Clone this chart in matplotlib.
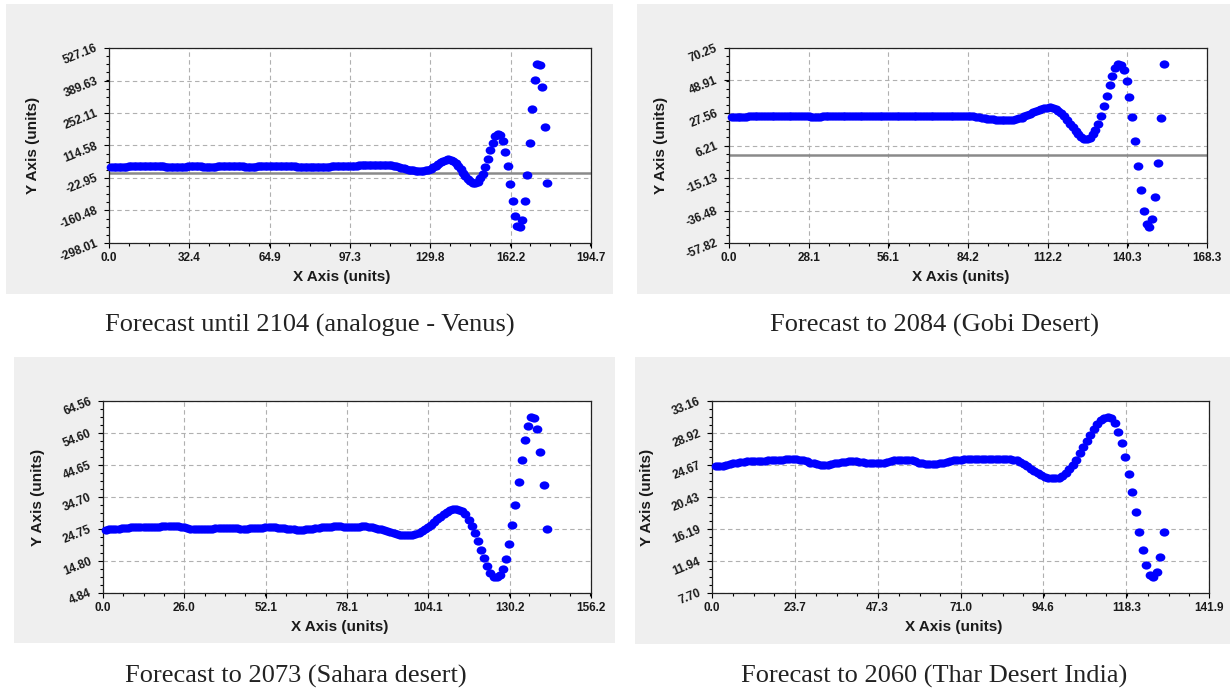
import numpy as np
import matplotlib
matplotlib.use("Agg")
import matplotlib.pyplot as plt
from matplotlib.path import Path
from matplotlib.patches import Rectangle
from matplotlib.transforms import Affine2D
from matplotlib.ticker import AutoMinorLocator

plt.rcParams['font.family'] = ['Liberation Sans', 'DejaVu Sans']

# ---- forecast series (one point per unit step) ----
venus_y = [
    24, 24, 25, 25, 25, 25, 25, 26, 26, 26,
    26, 26, 26, 26, 26, 26, 26, 26, 26, 26,
    26, 26, 25, 25, 25, 25, 25, 25, 25, 25,
    25, 26, 26, 26, 26, 26, 26, 25, 25, 25,
    25, 25, 25, 26, 26, 26, 26, 26, 26, 26,
    26, 26, 26, 26, 25, 25, 25, 25, 25, 26,
    26, 26, 26, 26, 26, 26, 26, 26, 26, 26,
    26, 26, 26, 26, 26, 25, 25, 25, 25, 25,
    25, 25, 25, 25, 25, 25, 25, 25, 25, 26,
    26, 26, 26, 27, 27, 27, 28, 28, 29, 29,
    30, 30, 31, 31, 32, 32, 33, 33, 33, 33,
    33, 33, 32, 31, 29, 27, 24, 21, 18, 15,
    13, 11, 9, 8, 7, 7, 8, 10, 13, 17,
    22, 29, 37, 45, 51, 55, 57, 55, 49, 40,
    28, 14, 0, -14, -27, -37, -42, -43, -38, -24,
    -5, 24, 59, 97, 127, 154, 163, 158, 134, 88,
    28, -47, -121, -182, -226, -229.25, -199, -122, -10, 127,
    270, 390, 458.4, 455, 364, 194, -43,
]

gobi_y = [
    24.7, 24.8, 24.9, 25.0, 25.1, 25.2, 25.3, 25.4, 25.5, 25.5,
    25.6, 25.6, 25.7, 25.7, 25.7, 25.8, 25.8, 25.8, 25.7, 25.7,
    25.7, 25.6, 25.6, 25.5, 25.5, 25.4, 25.3, 25.3, 25.2, 25.2,
    25.2, 25.2, 25.3, 25.3, 25.4, 25.5, 25.5, 25.5, 25.6, 25.6,
    25.6, 25.5, 25.5, 25.4, 25.4, 25.4, 25.4, 25.5, 25.5, 25.6,
    25.6, 25.7, 25.7, 25.7, 25.6, 25.6, 25.5, 25.4, 25.3, 25.3,
    25.3, 25.3, 25.4, 25.5, 25.6, 25.6, 25.7, 25.7, 25.7, 25.7,
    25.7, 25.7, 25.7, 25.7, 25.7, 25.7, 25.7, 25.7, 25.7, 25.7,
    25.7, 25.7, 25.7, 25.6, 25.5, 25.3, 25.0, 24.7, 24.4, 24.1,
    23.8, 23.5, 23.3, 23.1, 23.0, 22.9, 22.9, 22.9, 23.0, 23.2,
    23.5, 24.0, 24.6, 25.3, 26.1, 27.0, 27.9, 28.8, 29.6, 30.3,
    30.8, 31.1, 31.2, 30.9, 30.2, 29.0, 27.4, 25.4, 23.1, 20.6,
    18.1, 15.7, 13.6, 11.9, 10.8, 10.5, 11.2, 13.5, 16.5, 20.5,
    25.8, 32.3, 38.9, 45.9, 52.0, 56.9, 59.5, 59.4, 55.7, 48.9,
    38.3, 24.7, 9.3, -7.2, -22.8, -36.5, -45.3, -47.15, -42.0, -27.9,
    -5.2, 24.5, 59.58,
]

sahara_y = [
    24.5, 24.6, 24.7, 24.8, 24.9, 25.0, 25.1, 25.2, 25.3, 25.3,
    25.4, 25.4, 25.4, 25.4, 25.4, 25.4, 25.5, 25.5, 25.6, 25.7,
    25.8, 25.8, 25.8, 25.7, 25.5, 25.3, 25.1, 24.9, 24.8, 24.7,
    24.6, 24.6, 24.7, 24.8, 24.9, 25.0, 25.1, 25.1, 25.2, 25.2,
    25.1, 25.0, 25.0, 24.9, 24.9, 24.9, 25.0, 25.0, 25.1, 25.1,
    25.2, 25.3, 25.3, 25.3, 25.3, 25.2, 25.1, 25.0, 24.8, 24.7,
    24.6, 24.5, 24.5, 24.5, 24.6, 24.7, 24.9, 25.0, 25.2, 25.3,
    25.4, 25.5, 25.5, 25.6, 25.6, 25.6, 25.5, 25.5, 25.5, 25.5,
    25.5, 25.5, 25.6, 25.6, 25.5, 25.4, 25.2, 24.9, 24.6, 24.3,
    24.0, 23.7, 23.4, 23.2, 23.0, 22.9, 22.8, 22.8, 22.9, 23.1,
    23.5, 24.0, 24.6, 25.3, 26.1, 26.9, 27.8, 28.6, 29.4, 30.0,
    30.6, 30.9, 31.0, 30.8, 30.3, 29.5, 27.65, 25.7, 23.5, 20.9,
    18.3, 15.8, 13.2, 11.2, 9.82, 9.8, 10.4, 12.2, 15.5, 20.2,
    25.9, 32.3, 39.4, 46.1, 52.3, 56.9, 59.58, 59.4, 55.7, 48.8,
    38.4, 24.85,
]

thar_y = [
    24.6, 24.6, 24.6, 24.7, 24.8, 24.9, 25.0, 25.1, 25.1, 25.2,
    25.2, 25.2, 25.2, 25.2, 25.2, 25.3, 25.3, 25.3, 25.4, 25.4,
    25.5, 25.5, 25.5, 25.5, 25.4, 25.3, 25.2, 25.0, 24.9, 24.8,
    24.7, 24.7, 24.7, 24.8, 24.9, 25.0, 25.1, 25.1, 25.2, 25.2,
    25.2, 25.1, 25.1, 25.0, 25.0, 25.0, 25.0, 25.0, 25.0, 25.1,
    25.2, 25.3, 25.3, 25.4, 25.4, 25.3, 25.3, 25.2, 25.0, 24.9,
    24.8, 24.8, 24.8, 24.8, 24.9, 25.0, 25.1, 25.2, 25.3, 25.4,
    25.4, 25.5, 25.5, 25.5, 25.5, 25.5, 25.5, 25.5, 25.5, 25.5,
    25.5, 25.5, 25.5, 25.5, 25.5, 25.4, 25.3, 25.1, 24.8, 24.5,
    24.2, 23.9, 23.6, 23.3, 23.1, 23.0, 22.9, 22.9, 23.0, 23.2,
    23.6, 24.1, 24.7, 25.4, 26.2, 27.0, 27.8, 28.6, 29.4, 30.1,
    30.6, 30.9, 31.04, 30.9, 30.25, 29.06, 27.65, 25.76, 23.47, 21.05,
    18.4, 15.8, 13.4, 11.4, 10.1, 9.82, 10.47, 12.5, 15.76,
]

# axis ticks shown on each chart
venus_xticks = [0.0, 32.4, 64.9, 97.3, 129.8, 162.2, 194.7]
venus_yticks = [-298.01, -160.48, -22.95, 114.58, 252.11, 389.63, 527.16]
gobi_xticks = [0.0, 28.1, 56.1, 84.2, 112.2, 140.3, 168.3]
gobi_yticks = [-57.82, -36.48, -15.13, 6.21, 27.56, 48.91, 70.25]
sahara_xticks = [0.0, 26.0, 52.1, 78.1, 104.1, 130.2, 156.2]
sahara_yticks = [4.84, 14.80, 24.75, 34.70, 44.65, 54.60, 64.56]
thar_xticks = [0.0, 23.7, 47.3, 71.0, 94.6, 118.3, 141.9]
thar_yticks = [7.70, 11.94, 16.19, 20.43, 24.67, 28.92, 33.16]

titles = [
    "Forecast until 2104 (analogue - Venus)",
    "Forecast to 2084 (Gobi Desert)",
    "Forecast to 2073 (Sahara desert)",
    "Forecast to 2060 (Thar Desert India)",
]

W, H = 1230, 693
fig = plt.figure(figsize=(W / 100, H / 100), dpi=100, facecolor='white')

# slightly flattened dot marker
dot = Path.unit_circle().transformed(Affine2D().scale(1.0, 0.85))


def px_rect(x0, y0, x1, y1):
    return [x0 / W, 1 - y1 / H, (x1 - x0) / W, (y1 - y0) / H]


def panel(ys, xticks, yticks, ax_box, bg_box, title, title_xy, xlab_xy, ylab_xy):
    fig.patches.append(Rectangle((bg_box[0], bg_box[1]), bg_box[2], bg_box[3],
                                 transform=fig.transFigure, facecolor='#efefef',
                                 edgecolor='none', zorder=-10))
    ax = fig.add_axes(ax_box)
    ax.set_facecolor('white')
    xs = np.arange(1, len(ys) + 1)
    ax.set_xlim(xticks[0], xticks[-1])
    ax.set_ylim(yticks[0], yticks[-1])
    ax.set_xticks(xticks)
    ax.set_xticklabels(['%.1f' % v for v in xticks], fontsize=8.5, fontweight='bold',
                       color='#1a1a1a')
    ax.set_yticks(yticks)
    ax.set_yticklabels(['%.2f' % v for v in yticks], fontsize=8.5, fontweight='bold',
                       color='#1a1a1a', rotation=22, ha='right', va='center',
                       rotation_mode='anchor')
    ax.xaxis.set_minor_locator(AutoMinorLocator(4))
    ax.yaxis.set_minor_locator(AutoMinorLocator(4))
    ax.tick_params(which='major', direction='out', length=3.5, width=0.8, pad=3)
    ax.tick_params(axis='y', which='major', pad=5)
    ax.tick_params(which='minor', direction='out', length=2.5, width=0.8)
    ax.grid(True, which='major', color='#b0b0b0', linestyle=(0, (4, 3)), linewidth=0.8)
    ax.set_axisbelow(True)
    for s in ax.spines.values():
        s.set_linewidth(0.9)
        s.set_color('#222222')
    if yticks[0] < 0 < yticks[-1]:
        ax.axhline(0, color='#8a8a8a', linewidth=1.8, zorder=2)
    ax.plot(xs, ys, linestyle='none', marker=dot, markersize=7,
            color='#0000ff', markeredgewidth=0, zorder=3, clip_on=False)
    fig.text(xlab_xy[0] / W, 1 - xlab_xy[1] / H, 'X Axis (units)', ha='center', va='center',
             fontsize=11, fontweight='bold', color='#1a1a1a')
    fig.text(ylab_xy[0] / W, 1 - ylab_xy[1] / H, 'Y Axis (units)', ha='center', va='center',
             fontsize=11, fontweight='bold', rotation=90, color='#1a1a1a')
    fig.text(title_xy[0] / W, 1 - title_xy[1] / H, title, ha='center', va='center',
             fontsize=19, family='Liberation Serif', color='#222222')
    return ax


panel(venus_y, venus_xticks, venus_yticks,
      px_rect(109, 48, 591, 243), px_rect(6, 4, 613, 294),
      titles[0], (310, 325), (342, 277), (33, 145))
panel(gobi_y, gobi_xticks, gobi_yticks,
      px_rect(729, 48, 1207, 243), px_rect(637, 4, 1230, 294),
      titles[1], (934, 325), (961, 277), (661, 145))
panel(sahara_y, sahara_xticks, sahara_yticks,
      px_rect(103, 401, 591, 593), px_rect(14, 357, 615, 643),
      titles[2], (296, 676), (340, 627), (38, 497))
panel(thar_y, thar_xticks, thar_yticks,
      px_rect(712, 401, 1209, 593), px_rect(635, 357, 1230, 644),
      titles[3], (934, 676), (954, 627), (647, 497))

fig.savefig('out.png', dpi=100, facecolor='white')
